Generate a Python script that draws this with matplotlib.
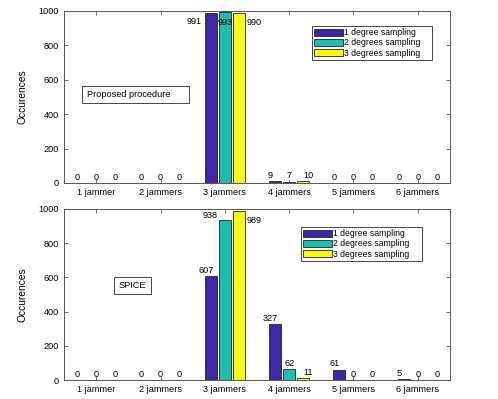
import matplotlib
matplotlib.use("Agg")
import matplotlib.pyplot as plt
from matplotlib.patches import Rectangle
import numpy as np

plt.rcParams['font.family'] = ['Liberation Sans', 'DejaVu Sans']

categories = ["1 jammer", "2 jammers", "3 jammers", "4 jammers", "5 jammers", "6 jammers"]
series_names = ["1 degree sampling", "2 degrees sampling", "3 degrees sampling"]
proposed = [
    [0, 0, 991, 9, 0, 0],
    [0, 0, 993, 7, 0, 0],
    [0, 0, 990, 10, 0, 0],
]
spice = [
    [0, 0, 607, 327, 61, 5],
    [0, 0, 938, 62, 0, 0],
    [0, 0, 989, 11, 0, 0],
]
panel_titles = ["Proposed procedure", "SPICE"]
yticks = [0, 200, 400, 600, 800, 1000]

colors = ["#3d26a8", "#1bbfaf", "#fafa0e"]
edge = "#222222"
axis_col = "#555555"

fig = plt.figure(figsize=(4.98, 3.99), dpi=100)
W, H = 498, 399

def add_ax(x0, y0, x1, y1):
    return fig.add_axes([x0 / W, 1 - y1 / H, (x1 - x0) / W, (y1 - y0) / H])

axes = [add_ax(64, 11, 450, 183), add_ax(64, 209, 450, 380)]
legend_boxes = [(312, 26, 432, 61), (301, 227, 422, 262)]
title_boxes = [(82, 86, 189, 103), (114, 277, 151, 294)]

x = np.arange(1, len(categories) + 1)
offs = [-0.22, 0.0, 0.22]
width = 0.19
fs_lab = 6.6

for ax, data, title, lb, tb in zip(axes, [proposed, spice], panel_titles, legend_boxes, title_boxes):
    handles = []
    for i, vals in enumerate(data):
        h = ax.bar(x + offs[i], vals, width=width, color=colors[i], edgecolor=edge,
                   linewidth=0.6, label=series_names[i], zorder=2)
        handles.append(h)
        for xc, v in zip(x, vals):
            xi = xc + offs[i]
            if v > 950:
                if i == 0:
                    ax.annotate(str(v), (xi - width / 2, v), xytext=(-2, -3),
                                textcoords='offset points', ha='right', va='top', fontsize=fs_lab)
                elif i == 1:
                    ax.annotate(str(v), (xi, v), xytext=(0, -4),
                                textcoords='offset points', ha='center', va='top', fontsize=fs_lab)
                else:
                    ax.annotate(str(v), (xi + width / 2, v), xytext=(1, -4),
                                textcoords='offset points', ha='left', va='top', fontsize=fs_lab)
            elif v > 900:
                ax.annotate(str(v), (xi - width / 2, v), xytext=(-1, 0),
                            textcoords='offset points', ha='right', va='bottom', fontsize=fs_lab)
            else:
                ax.annotate(str(v), (xc + 1.35 * offs[i], v), xytext=(0, 1),
                            textcoords='offset points', ha='center', va='bottom', fontsize=fs_lab)
    ax.set_xlim(0.5, 6.5)
    ax.set_ylim(0, 1000)
    ax.set_xticks(x)
    ax.set_xticklabels(categories, fontsize=6.6)
    ax.set_yticks(yticks)
    ax.set_yticklabels([str(t) for t in yticks], fontsize=6.6)
    ax.set_ylabel("Occurences", fontsize=7.4)
    ax.yaxis.set_label_coords(-0.095, 0.5)
    ax.tick_params(direction='in', top=True, right=True, length=3, width=0.6,
                   color=axis_col, pad=3.5)
    for s in ax.spines.values():
        s.set_color(axis_col)
        s.set_linewidth(0.7)
    # legend
    bx0, by0, bx1, by1 = lb
    leg = ax.legend(handles=handles, loc='upper left',
                    bbox_to_anchor=(bx0 / W, 1 - by1 / H, (bx1 - bx0) / W, (by1 - by0) / H),
                    bbox_transform=fig.transFigure, mode='expand', fontsize=6.2,
                    handlelength=3.3, handleheight=0.9, handletextpad=0.2,
                    labelspacing=0.15, borderpad=0.25, borderaxespad=0,
                    fancybox=False, framealpha=1)
    leg.get_frame().set_edgecolor("#444444")
    leg.get_frame().set_linewidth(0.7)
    # annotation text box
    tx0, ty0, tx1, ty1 = tb
    fig.patches.append(Rectangle((tx0 / W, 1 - ty1 / H), (tx1 - tx0) / W, (ty1 - ty0) / H,
                                 transform=fig.transFigure, fc='white', ec='#444444',
                                 lw=0.7, zorder=5))
    fig.text((tx0 + 5) / W, 1 - (ty0 + ty1) / 2 / H, title, fontsize=6.6,
             ha='left', va='center', zorder=6)

fig.savefig("out.png", dpi=100)
